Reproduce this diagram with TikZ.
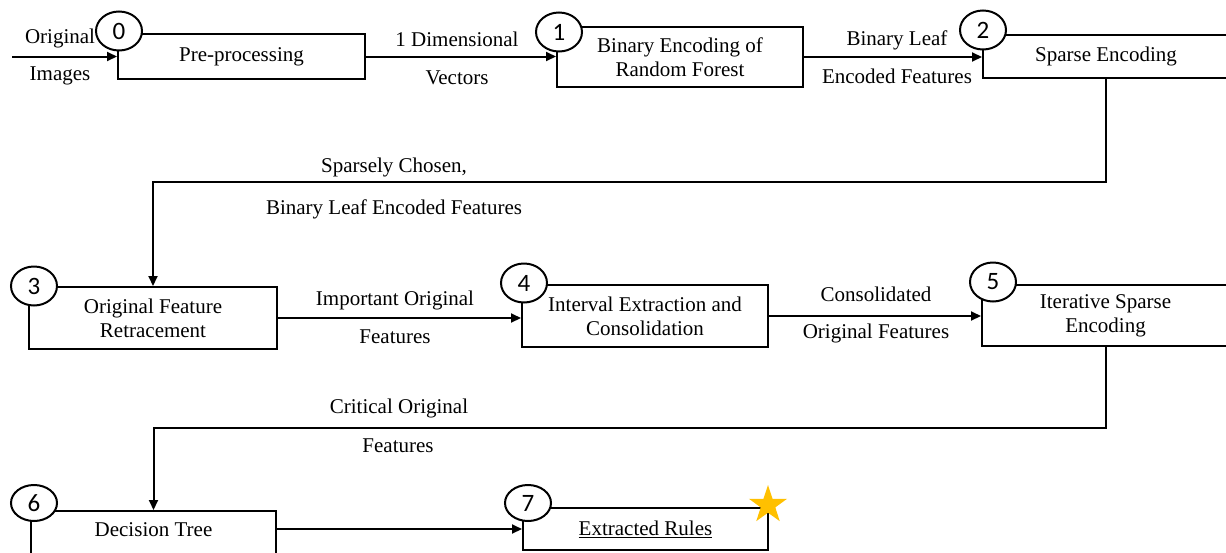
\documentclass[tikz,border=0pt]{standalone}
\usepackage{fontspec}
\setmainfont{Liberation Serif}
\newfontfamily\numfont{Carlito}
\usetikzlibrary{arrows.meta,shapes.geometric}
\definecolor{starc}{HTML}{FFC000}
\tikzset{
  box/.style={draw, line width=2pt, inner sep=0pt, align=center,
    font=\fontsize{21pt}{24pt}\selectfont},
  num/.style={ellipse, draw, fill=white, line width=2pt, inner sep=0pt,
    minimum width=46pt, minimum height=39pt,
    font=\fontsize{25pt}{25pt}\selectfont\numfont},
  lbl/.style={inner sep=0pt, font=\fontsize{21pt}{24pt}\selectfont},
  conn/.style={line width=2pt, -{Triangle[length=10pt,width=9pt]}},
  plain/.style={line width=2pt}
}
\begin{document}
\begin{tikzpicture}[x=1pt,y=-1pt]
\useasboundingbox (0,0) rectangle (1226,552);
\begin{scope}
\clip (0,0) rectangle (1226,552);
% boxes
\node[box, minimum width=247pt, minimum height=45pt] (b0) at (241.5,56.5) {Pre-processing};
\node[box, minimum width=246pt, minimum height=60pt] (b1) at (680,57) {Binary Encoding of\\Random Forest};
\node[box, minimum width=246pt, minimum height=43pt] (b2) at (1106,56.5) {Sparse Encoding};
\node[box, minimum width=248pt, minimum height=62pt] (b3) at (153,318) {Original Feature\\Retracement};
\node[box, minimum width=246pt, minimum height=62pt] (b4) at (645,316) {Interval Extraction and\\Consolidation};
\node[box, minimum width=247pt, minimum height=61pt] (b5) at (1105.5,315.5) {Iterative Sparse\\Encoding};
\node[box, minimum width=245pt, anchor=north, text height=25pt, text depth=50pt] (b6) at (153.5,510) {Decision Tree};
\node[box, minimum width=245pt, minimum height=42pt] (b7) at (645.5,529) {\underline{Extracted Rules}};
% input
\coordinate (in) at (12,56.5);
\draw[conn] (in) -- (b0.west);
\node[lbl] (l0a) at (60,38.5) {Original};
\node[lbl] (l0b) at (60,76) {Images};
% 0 -> 1
\draw[conn] (b0.east) -- (b1.west |- b0.east);
\node[lbl] (l1a) at (457,39.5) {1 Dimensional};
\node[lbl] (l1b) at (457,78) {Vectors};
% 1 -> 2
\draw[conn] (b1.east) -- (b2.west |- b1.east);
\node[lbl] (l2a) at (897,40) {Binary Leaf};
\node[lbl] (l2b) at (897,76) {Encoded Features};
% 2 -> 3
\coordinate (m1) at (0,182);
\draw[conn] (b2.south) -- (b2.south |- m1) -| (b3.north);
\node[lbl] (l3a) at (394,167.5) {Sparsely Chosen,};
\node[lbl] (l3b) at (394,209) {Binary Leaf Encoded Features};
% 3 -> 4
\draw[conn] (b3.east) -- (b4.west |- b3.east);
\node[lbl] (l4a) at (395,300) {Important Original};
\node[lbl] (l4b) at (395,337) {Features};
% 4 -> 5
\draw[conn] (b4.east) -- (b5.west |- b4.east);
\node[lbl] (l5a) at (876,294.5) {Consolidated};
\node[lbl] (l5b) at (876,333) {Original Features};
% 5 -> 6
\coordinate (m2) at (0,428);
\draw[conn] (b5.south) -- (b5.south |- m2) -| (b6.north);
\node[lbl] (l6a) at (399,408) {Critical Original};
\node[lbl] (l6b) at (398,446) {Features};
% 6 -> 7
\draw[conn] (b7.west -| b6.east) -- (b7.west);
% numbers
\node[num] (c0) at (119,31) {0};
\node[num] (c1) at (559,32) {1};
\node[num] (c2) at (983,30) {2};
\node[num] (c3) at (34,286) {3};
\node[num] (c4) at (524,283) {4};
\node[num] (c5) at (993,282) {5};
\node[num, minimum height=36pt] (c6) at (34,503) {6};
\node[num, minimum height=36pt] (c7) at (528,503) {7};
% star
\node[star, star points=5, star point ratio=2.6, fill=starc, draw=none, minimum size=40pt, inner sep=0pt] (st) at (768,505) {};
\end{scope}
\end{tikzpicture}
\end{document}
